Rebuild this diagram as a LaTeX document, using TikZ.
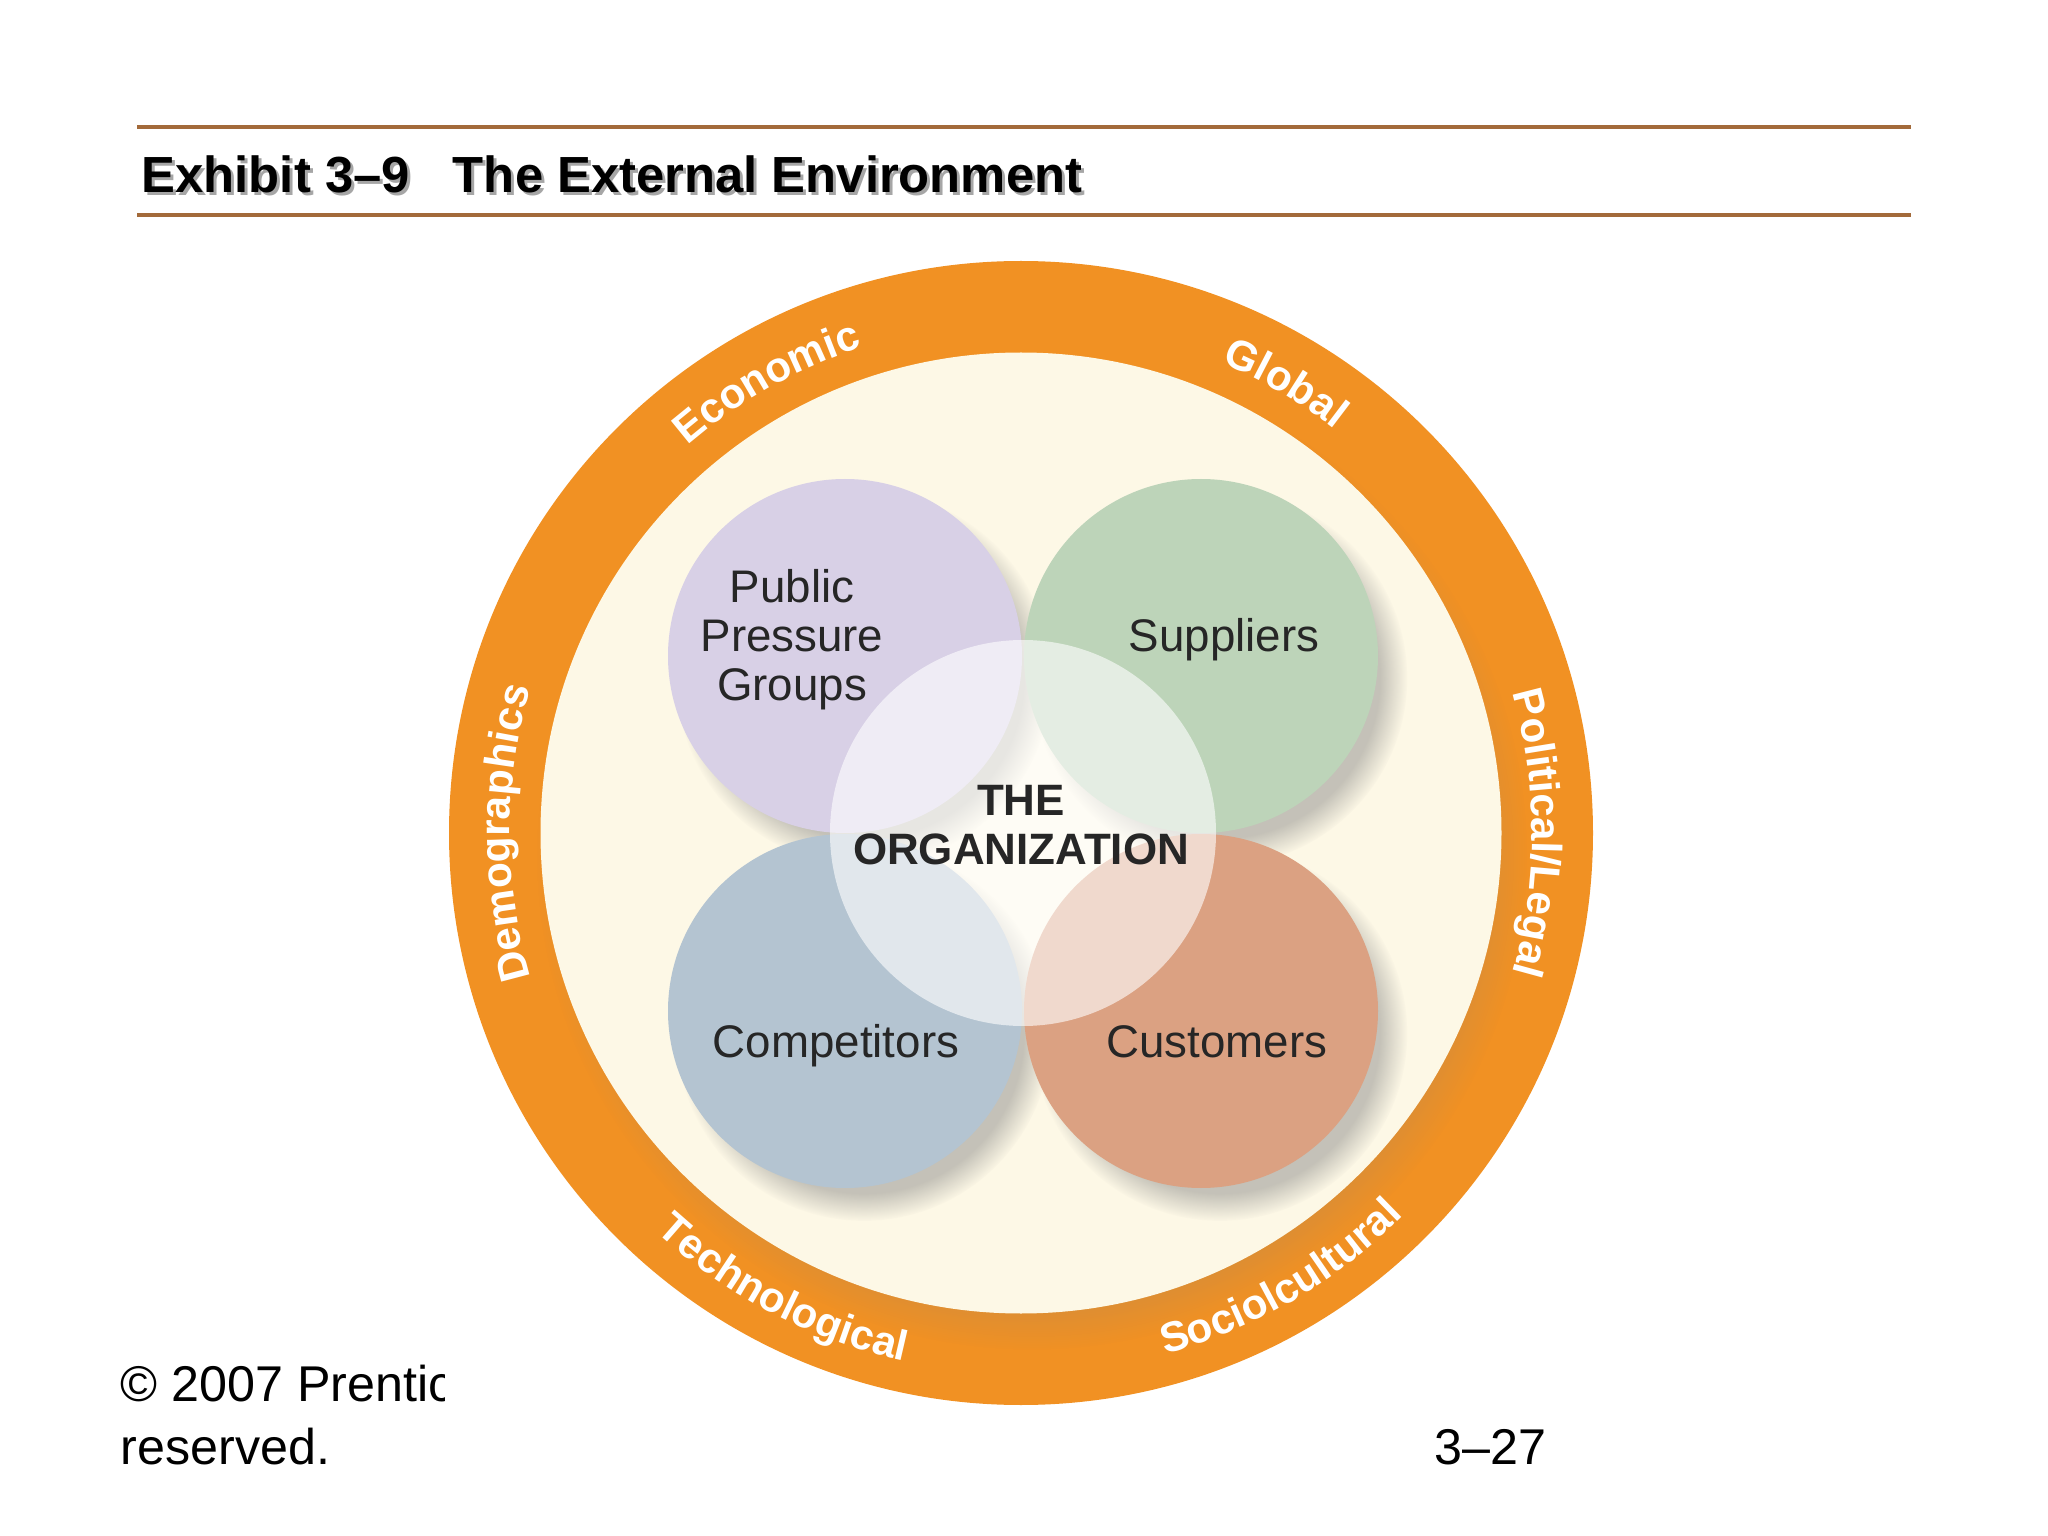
\documentclass[tikz,border=0pt]{standalone}
\usepackage{fontspec}
\setmainfont{Liberation Sans}
\usetikzlibrary{calc,positioning,shadows,decorations.text}
\definecolor{rulebrown}{RGB}{163,106,58}
\definecolor{ringorange}{RGB}{241,145,35}
\definecolor{creamfill}{RGB}{253,248,230}
\definecolor{pressurelilac}{RGB}{216,208,230}
\definecolor{suppliergreen}{RGB}{189,212,185}
\definecolor{competitorblue}{RGB}{180,196,209}
\definecolor{customersalmon}{RGB}{219,161,130}

\begin{document}
\begin{tikzpicture}[
    titlerule/.style={draw=rulebrown, line width=1.3pt},
    titletext/.style={anchor=base west, inner sep=0pt, font=\bfseries\fontsize{14.45}{17}\selectfont},
    footer/.style={anchor=base west, inner sep=0pt, font=\fontsize{14.3}{17}\selectfont},
    disc/.style={circle, inner sep=0pt, minimum size=#1},
    stakeholder/.style={disc=3.54cm, circular drop shadow={shadow xshift=5pt, shadow yshift=-6pt, shadow scale=1.06, opacity=.45}},
    sectorname/.style={align=center, inner sep=0pt, text=black!85, font=\fontsize{13}{13.9}\selectfont},
    ringlabel/.style={decorate, decoration={text along path, text align=center, text color=white,
        text={|\bfseries\fontsize{12}{14}\selectfont|#1}}}
]
\fill[white] (0,0) rectangle (20.48,-15.36);
\useasboundingbox (0,0) rectangle (20.48,-15.36);

% header
\draw[titlerule] (1.37,-1.27) -- (19.11,-1.27);
\draw[titlerule] (1.37,-2.15) -- (19.11,-2.15);
\node[titletext, text=black!35] (titleshadow) at (1.44,-1.96) {Exhibit 3--9\hspace{0.85em}The External Environment};
\node[titletext] (title) at (1.41,-1.93) {Exhibit 3--9\hspace{0.85em}The External Environment};

% footer (cut off by the picture)
\begin{scope}
  \clip (0,-13) rectangle (4.44,-14.3);
  \node[footer] (copyright) at (1.20,-14.01) {\textcopyright{} 2007 Prentice Hall, Inc.};
\end{scope}
\node[footer] (reserved) at (1.20,-14.64) {reserved.};
\node[footer] (pagenum) at (14.34,-14.64) {3--27};

% environment rings
\coordinate (c) at (10.21,-8.33);
\node[disc=11.44cm, fill=ringorange] (ring) at (c) {};
\node[disc=9.61cm, fill=creamfill, circular drop shadow={shadow xshift=3pt, shadow yshift=-6pt, shadow scale=1.03, opacity=.3}] (inner) at (c) {};

\path[ringlabel=Economic] ([shift={(179.4:5.11)}]c) arc[start angle=179.4, end angle=59.4, radius=5.11];
\path[ringlabel=Global] ([shift={(119.5:5.11)}]c) arc[start angle=119.5, end angle=-0.5, radius=5.11];
\path[ringlabel=Political/Legal] ([shift={(60:5.11)}]c) arc[start angle=60, end angle=-60, radius=5.11];
\path[ringlabel=Sociolcultural] ([shift={(-119.8:5.41)}]c) arc[start angle=-119.8, end angle=0.2, radius=5.41];
\path[ringlabel=Technological] ([shift={(-177.5:5.41)}]c) arc[start angle=-177.5, end angle=-57.5, radius=5.41];
\path[ringlabel=Demographics] ([shift={(240:5.11)}]c) arc[start angle=240, end angle=120, radius=5.11];

% stakeholders
\node[stakeholder, fill=pressurelilac] (pressure) at ($(c)+(-1.76,1.77)$) {};
\node[stakeholder, fill=suppliergreen] (suppliers) at ($(c)+(1.80,1.77)$) {};
\node[stakeholder, fill=competitorblue] (competitors) at ($(c)+(-1.76,-1.78)$) {};
\node[stakeholder, fill=customersalmon] (customers) at ($(c)+(1.80,-1.78)$) {};
\node[disc=3.86cm, fill=white, fill opacity=.6] (organization) at ($(c)+(0.02,0)$) {};

\node[sectorname] (pressurename) at (7.92,-6.40) {Public\\Pressure\\Groups};
\node[sectorname, anchor=base] (suppliersname) at (12.24,-6.52) {Suppliers};
\node[sectorname, anchor=base] (competitorsname) at (8.36,-10.57) {Competitors};
\node[sectorname, anchor=base] (customersname) at (12.17,-10.57) {Customers};
\node[sectorname, font=\bfseries\fontsize{12.5}{14.1}\selectfont] (orgname) at (10.21,-8.25) {THE\\ORGANIZATION};
\end{tikzpicture}
\end{document}
